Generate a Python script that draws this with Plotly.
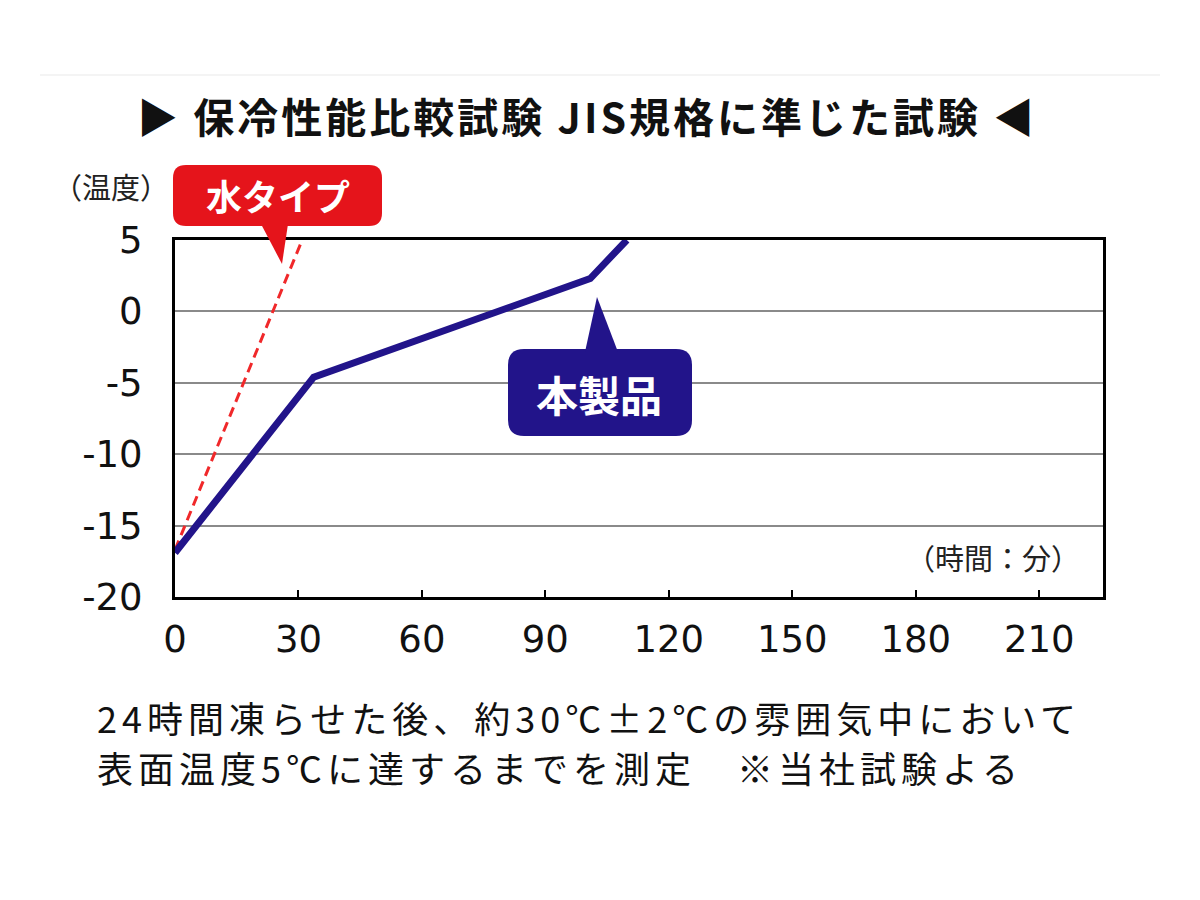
import plotly.graph_objects as go

# data (time in minutes, surface temperature in deg C)
time_product = [0, 33.7, 100.9, 109.8]
temp_product = [-16.9, -4.6, 2.3, 5]
time_water = [0, 30.9]
temp_water = [-16.7, 5]

x_ticks = [0, 30, 60, 90, 120, 150, 180, 210]
y_ticks = [-20, -15, -10, -5, 0, 5]

title_text = '▶ 保冷性能比較試験 JIS規格に準じた試験 ◀'
y_label = '（温度）'
x_label = '（時間：分）'
water_label = '水タイプ'
product_label = '本製品'
note_lines = ['24時間凍らせた後、約30℃±2℃の雰囲気中において',
              '表面温度5℃に達するまでを測定　※当社試験よる']

FONT = 'Noto Sans CJK JP'
NUM_FONT = 'DejaVu Sans'
NAVY = '#22148a'
RED = '#e5141b'

# plot area in screen pixels, page body has an 8px margin
OFF = 8
L, R, T, B = 175, 1103, 240, 597


def px_x(p):
    return (p - L) / (R - L)


def px_y(p):
    return (B - p) / (B - T)


def spaced(s, px):
    return f'<span style="letter-spacing:{px}px">{s}</span>'


def rounded_box(x0, y0, x1, y1, r):
    pts = [('M', x0 + r, y0), ('L', x1 - r, y0), ('Q', x1, y0, x1, y0 + r),
           ('L', x1, y1 - r), ('Q', x1, y1, x1 - r, y1), ('L', x0 + r, y1),
           ('Q', x0, y1, x0, y1 - r), ('L', x0, y0 + r), ('Q', x0, y0, x0 + r, y0)]
    out = []
    for p in pts:
        cmd, vals = p[0], p[1:]
        coords = []
        for i in range(0, len(vals), 2):
            coords.append(f'{px_x(vals[i]):.5f},{px_y(vals[i + 1]):.5f}')
        out.append(cmd + ' '.join(coords))
    return ' '.join(out) + ' Z'


def triangle(p1, p2, p3):
    return (f'M{px_x(p1[0]):.5f},{px_y(p1[1]):.5f} L{px_x(p2[0]):.5f},{px_y(p2[1]):.5f} '
            f'L{px_x(p3[0]):.5f},{px_y(p3[1]):.5f} Z')


fig = go.Figure()

fig.add_trace(go.Scatter(x=time_water, y=temp_water, mode='lines',
                         line=dict(color='#f0282a', width=3, dash='10px,6px'),
                         hoverinfo='skip', showlegend=False))
fig.add_trace(go.Scatter(x=time_product, y=temp_product, mode='lines',
                         line=dict(color=NAVY, width=7),
                         hoverinfo='skip', showlegend=False))

shapes = [
    # faint rule at the top of the page
    dict(type='line', xref='paper', yref='paper', x0=px_x(40), x1=px_x(1160),
         y0=px_y(75), y1=px_y(75), line=dict(color='#f0f0f0', width=1.5)),
    # red callout
    dict(type='path', xref='paper', yref='paper', path=rounded_box(173, 165, 382, 226, 13),
         fillcolor=RED, line=dict(width=0), layer='above'),
    dict(type='path', xref='paper', yref='paper', path=triangle((261, 224), (282, 264), (288, 224)),
         fillcolor=RED, line=dict(width=0), layer='above'),
    # navy callout
    dict(type='path', xref='paper', yref='paper', path=rounded_box(508, 349, 692, 436, 16),
         fillcolor=NAVY, line=dict(width=0), layer='above'),
    dict(type='path', xref='paper', yref='paper', path=triangle((585, 352), (597, 297), (618, 352)),
         fillcolor=NAVY, line=dict(width=0), layer='above'),
]

annotations = [
    dict(text=spaced(title_text, 3), x=px_x(587), y=px_y(115),
         font=dict(size=41, color='#111111', family=FONT, weight='bold')),
    dict(text=y_label, x=px_x(111), y=px_y(186), font=dict(size=29, color='#222222', family=FONT)),
    dict(text=x_label, x=px_x(1082), y=px_y(557), xanchor='right',
         font=dict(size=29, color='#222222', family=FONT)),
    dict(text=water_label, x=px_x(278), y=px_y(195), font=dict(size=36, color='white', family=FONT, weight='bold')),
    dict(text=product_label, x=px_x(599), y=px_y(393), font=dict(size=42, color='white', family=FONT, weight='bold')),
    dict(text=spaced(note_lines[0], 5), x=px_x(95), y=px_y(717), xanchor='left',
         font=dict(size=36, color='#111111', family=FONT)),
    dict(text=spaced(note_lines[1], 5), x=px_x(95), y=px_y(767), xanchor='left',
         font=dict(size=36, color='#111111', family=FONT)),
]
for a in annotations:
    a.update(xref='paper', yref='paper', showarrow=False)
    a.setdefault('xanchor', 'center')
    a.setdefault('yanchor', 'middle')

fig.update_layout(
    width=1200 - OFF, height=900 - OFF, autosize=False,
    margin=dict(l=L - OFF, r=1200 - R, t=T - OFF, b=900 - B, pad=0),
    paper_bgcolor='white', plot_bgcolor='white',
    font=dict(family=FONT, color='#111111'),
    shapes=shapes, annotations=annotations,
    showlegend=False,
)

fig.update_xaxes(range=[0, 225.5], tickvals=x_ticks, ticktext=[str(v) for v in x_ticks],
                 ticks='inside', ticklen=7, tickwidth=2,
                 tickcolor='black', showgrid=False, zeroline=False,
                 showline=True, linecolor='black', linewidth=3, mirror=True,
                 tickfont=dict(size=37, color='#111111', family=NUM_FONT), ticklabelstandoff=8)
fig.update_yaxes(range=[-20, 5], tickvals=y_ticks, ticktext=[str(v) for v in y_ticks], ticks='',
                 showgrid=True, gridcolor='#8a8a8a', gridwidth=1.5, zeroline=False,
                 showline=True, linecolor='black', linewidth=3, mirror=True,
                 tickfont=dict(size=37, color='#111111', family=NUM_FONT), ticklabelstandoff=22)

fig.write_html('out.html')
